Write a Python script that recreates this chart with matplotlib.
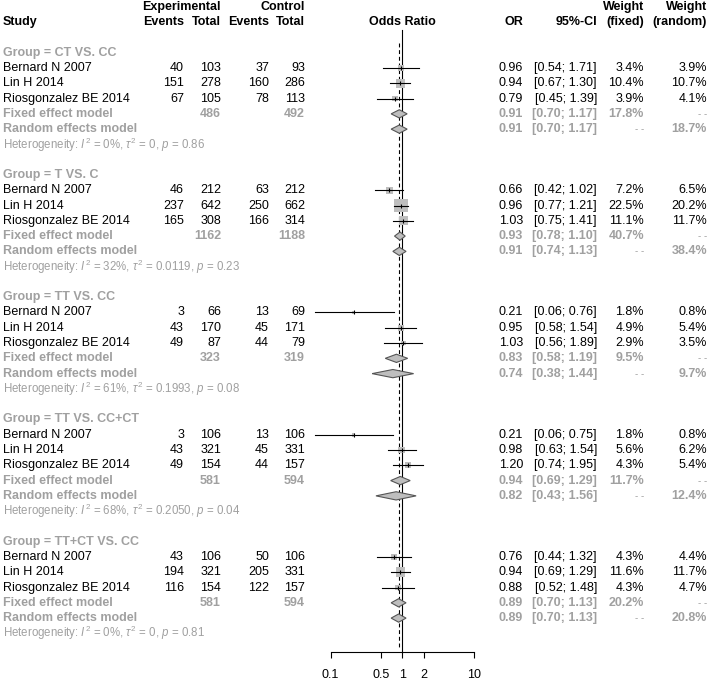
import numpy as np
import matplotlib
matplotlib.use('Agg')
from matplotlib import pyplot as plt
from matplotlib.patches import Polygon
from matplotlib.ticker import NullLocator, FixedLocator, FixedFormatter

plt.rcParams['font.family'] = ['Liberation Sans', 'DejaVu Sans']
plt.rcParams['mathtext.fontset'] = 'custom'
plt.rcParams['mathtext.rm'] = 'Liberation Sans'
plt.rcParams['mathtext.it'] = 'Liberation Sans:italic'

groups = ['CT VS. CC', 'T VS. C', 'TT VS. CC', 'TT VS. CC+CT', 'TT+CT VS. CC']
studies = ['Bernard N 2007', 'Lin H 2014', 'Riosgonzalez BE 2014']

exp_events = [[40, 151, 67], [46, 237, 165], [3, 43, 49], [3, 43, 49], [43, 194, 116]]
exp_total = [[103, 278, 105], [212, 642, 308], [66, 170, 87], [106, 321, 154], [106, 321, 154]]
ctl_events = [[37, 160, 78], [63, 250, 166], [13, 45, 44], [13, 45, 44], [50, 205, 122]]
ctl_total = [[93, 286, 113], [212, 662, 314], [69, 171, 79], [106, 331, 157], [106, 331, 157]]

odds = [[0.96, 0.94, 0.79], [0.66, 0.96, 1.03], [0.21, 0.95, 1.03], [0.21, 0.98, 1.20], [0.76, 0.94, 0.88]]
ci_lo = [[0.54, 0.67, 0.45], [0.42, 0.77, 0.75], [0.06, 0.58, 0.56], [0.06, 0.63, 0.74], [0.44, 0.69, 0.52]]
ci_hi = [[1.71, 1.30, 1.39], [1.02, 1.21, 1.41], [0.76, 1.54, 1.89], [0.75, 1.54, 1.95], [1.32, 1.29, 1.48]]
w_fixed = [[3.4, 10.4, 3.9], [7.2, 22.5, 11.1], [1.8, 4.9, 2.9], [1.8, 5.6, 4.3], [4.3, 11.6, 4.3]]
w_random = [[3.9, 10.7, 4.1], [6.5, 20.2, 11.7], [0.8, 5.4, 3.5], [0.8, 6.2, 5.4], [4.4, 11.7, 4.7]]

# pooled estimates per group: OR, lower, upper, weight
fixed = [(0.91, 0.70, 1.17, 17.8), (0.93, 0.78, 1.10, 40.7), (0.83, 0.58, 1.19, 9.5),
         (0.94, 0.69, 1.29, 11.7), (0.89, 0.70, 1.13, 20.2)]
random = [(0.91, 0.70, 1.17, 18.7), (0.91, 0.74, 1.13, 38.4), (0.74, 0.38, 1.44, 9.7),
          (0.82, 0.43, 1.56, 12.4), (0.89, 0.70, 1.13, 20.8)]
het_i2 = ['0%', '32%', '61%', '68%', '0%']
het_tau2 = ['0', '0.0119', '0.1993', '0.2050', '0']
het_p = ['0.86', '0.23', '0.08', '0.04', '0.81']

overall = 0.91
ticks = [0.1, 0.5, 1, 2, 10]

W, H = 709, 682
fig = plt.figure(figsize=(W / 100, H / 100), dpi=100)
grey = '#a0a0a0'
fs = 9
fs_het = 8.3

# rows: 15.28 px apart, row 0 at 6.9 px
row_h = 15.28
row0 = 6.9
ytop = -row0 / row_h
ybot = (H - row0) / row_h

ax = fig.add_axes([0, 0, 1, 1])
ax.set_xlim(0, W)
ax.set_ylim(ybot, ytop)
ax.axis('off')

# forest panel, log scale from 0.1 to 10
fx0, fx1 = 330.5, 474.0
axf = fig.add_axes([fx0 / W, 0, (fx1 - fx0) / W, 1])
axf.set_xscale('log')
axf.set_xlim(0.1, 10)
axf.set_ylim(ybot, ytop)
axf.patch.set_visible(False)
for s in ['top', 'left', 'right']:
    axf.spines[s].set_visible(False)
axis_row = 42.2
axf.spines['bottom'].set_position(('data', axis_row))
axf.spines['bottom'].set_linewidth(0.8)
axf.yaxis.set_visible(False)
axf.xaxis.set_major_locator(FixedLocator(ticks))
axf.xaxis.set_major_formatter(FixedFormatter(['0.1', '0.5', '1', '2', '10']))
axf.xaxis.set_minor_locator(NullLocator())
axf.tick_params(axis='x', direction='out', length=4.5, width=0.8, pad=8, labelsize=fs)

# column positions (right edges)
c_study = 3
c_ee, c_et, c_ce, c_ct = 184, 221, 269, 305
c_or, c_ci, c_wf, c_wr = 523, 597, 644, 707

def txt(x, y, s, ha='right', color='black', weight='normal', size=fs):
    ax.text(x, y, s, ha=ha, va='center', color=color, fontweight=weight, fontsize=size)

# header
txt(c_study, 1, 'Study', ha='left', weight='bold')
txt(c_et, 0, 'Experimental', weight='bold')
txt(c_ee, 1, 'Events', weight='bold')
txt(c_et, 1, 'Total', weight='bold')
txt(c_ct, 0, 'Control', weight='bold')
txt(c_ce, 1, 'Events', weight='bold')
txt(c_ct, 1, 'Total', weight='bold')
ax.text(402.5, 1, 'Odds Ratio', ha='center', va='center', fontweight='bold', fontsize=fs)
txt(c_or, 1, 'OR', weight='bold')
txt(c_ci, 1, '95%-CI', weight='bold')
txt(c_wf, 0, 'Weight', weight='bold')
txt(c_wf, 1, '(fixed)', weight='bold')
txt(c_wr, 0, 'Weight', weight='bold')
txt(c_wr, 1, '(random)', weight='bold')

# reference lines
axf.plot([1, 1], [1.5, axis_row], color='black', lw=0.8, clip_on=False)
axf.plot([overall, overall], [2.35, 41.9], color='black', lw=0.8, ls=(0, (3.5, 2.5)), clip_on=False)

dh = 0.27
for g in range(len(groups)):
    r = 3 + 8 * g
    txt(c_study, r, 'Group = ' + groups[g], ha='left', color=grey, weight='bold')
    for k in range(len(studies)):
        y = r + 1 + k
        txt(c_study, y, studies[k], ha='left')
        txt(c_ee, y, str(exp_events[g][k]))
        txt(c_et, y, str(exp_total[g][k]))
        txt(c_ce, y, str(ctl_events[g][k]))
        txt(c_ct, y, str(ctl_total[g][k]))
        txt(c_or, y, '%.2f' % odds[g][k])
        txt(c_ci, y, '[%.2f; %.2f]' % (ci_lo[g][k], ci_hi[g][k]))
        txt(c_wf, y, '%.1f%%' % w_fixed[g][k])
        txt(c_wr, y, '%.1f%%' % w_random[g][k])
        side = 2.8 * np.sqrt(w_fixed[g][k]) * 0.72
        axf.scatter([odds[g][k]], [y], s=side ** 2, marker='s', color='#bebebe',
                    edgecolor='none', zorder=3, clip_on=False)
        axf.plot([ci_lo[g][k], ci_hi[g][k]], [y, y], color='black', lw=0.8, zorder=4,
                 clip_on=False)
        axf.plot([odds[g][k]], [y], marker='|', color='black', markersize=3.5, mew=0.8,
                 zorder=5, clip_on=False)

    # pooled rows
    yf = r + 4
    yr = r + 5
    txt(c_study, yf, 'Fixed effect model', ha='left', color=grey, weight='bold')
    txt(c_et, yf, str(sum(exp_total[g])), color=grey, weight='bold')
    txt(c_ct, yf, str(sum(ctl_total[g])), color=grey, weight='bold')
    txt(c_study, yr, 'Random effects model', ha='left', color=grey, weight='bold')
    for y, est, lab in [(yf, fixed[g], 'f'), (yr, random[g], 'r')]:
        txt(c_or, y, '%.2f' % est[0], color=grey, weight='bold')
        txt(c_ci, y, '[%.2f; %.2f]' % (est[1], est[2]), color=grey, weight='bold')
        if lab == 'f':
            txt(c_wf, y, '%.1f%%' % est[3], color=grey, weight='bold')
            txt(c_wr, y, '- -', color=grey, size=7)
        else:
            txt(c_wf, y, '- -', color=grey, size=7)
            txt(c_wr, y, '%.1f%%' % est[3], color=grey, weight='bold')
        d = Polygon([(est[1], y), (est[0], y - dh), (est[2], y), (est[0], y + dh)],
                    closed=True, facecolor='#bebebe', edgecolor='#555555', lw=0.8, zorder=4)
        axf.add_patch(d)

    het = r'Heterogeneity: $I^2$ = %s, $\tau^2$ = %s, $p$ = %s' % (het_i2[g], het_tau2[g], het_p[g])
    txt(c_study, r + 6, het, ha='left', color=grey, size=fs_het)

fig.savefig('out.png', dpi=100)
